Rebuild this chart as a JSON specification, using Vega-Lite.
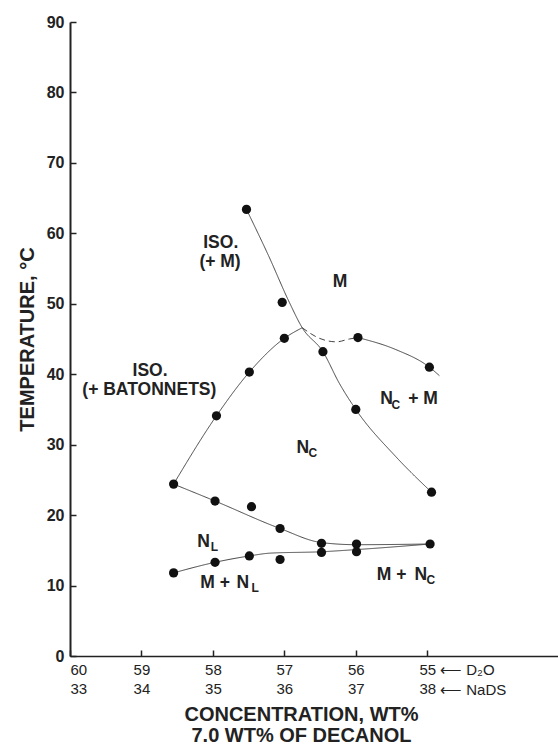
{
  "$schema": "https://vega.github.io/schema/vega-lite/v6.json",
  "width": 488,
  "height": 634,
  "autosize": {"type": "none"},
  "padding": {"left": 70, "top": 22, "right": 0, "bottom": 92},
  "background": "white",
  "config": {
    "view": {"stroke": null},
    "axis": {"labelFont": "Liberation Sans", "titleFont": "Liberation Sans", "domainColor": "#222", "tickColor": "#222", "labelColor": "#222", "titleColor": "#222", "grid": false}
  },
  "datasets": {
    "points": [
      {"x": 57.53, "y": 63.4}, {"x": 57.03, "y": 50.2}, {"x": 57.0, "y": 45.1}, {"x": 56.46, "y": 43.2},
      {"x": 55.97, "y": 45.2}, {"x": 54.97, "y": 41.0}, {"x": 56.0, "y": 35.0}, {"x": 54.94, "y": 23.25},
      {"x": 57.49, "y": 40.3}, {"x": 57.95, "y": 34.1}, {"x": 58.55, "y": 24.4}, {"x": 57.97, "y": 22.0},
      {"x": 57.46, "y": 21.2}, {"x": 57.06, "y": 18.1}, {"x": 56.48, "y": 16.0}, {"x": 56.48, "y": 14.7},
      {"x": 55.99, "y": 15.9}, {"x": 55.99, "y": 14.8}, {"x": 54.96, "y": 15.9}, {"x": 58.55, "y": 11.8},
      {"x": 57.97, "y": 13.3}, {"x": 57.49, "y": 14.2}, {"x": 57.06, "y": 13.7}
    ],
    "curves": [
      {"s": "A", "st": "solid", "x": 58.55, "y": 24.4},
      {"s": "A", "st": "solid", "x": 57.95, "y": 34.1},
      {"s": "A", "st": "solid", "x": 57.49, "y": 40.3},
      {"s": "A", "st": "solid", "x": 57.0, "y": 45.1},
      {"s": "A", "st": "solid", "x": 56.75, "y": 46.6},
      {"s": "B", "st": "dashed", "x": 56.75, "y": 46.6},
      {"s": "B", "st": "dashed", "x": 56.51, "y": 45.1},
      {"s": "B", "st": "dashed", "x": 56.27, "y": 44.6},
      {"s": "B", "st": "dashed", "x": 56.09, "y": 45.0},
      {"s": "B", "st": "dashed", "x": 55.97, "y": 45.2},
      {"s": "C", "st": "solid", "x": 55.97, "y": 45.2},
      {"s": "C", "st": "solid", "x": 55.44, "y": 43.5},
      {"s": "C", "st": "solid", "x": 54.97, "y": 41.0},
      {"s": "C", "st": "solid", "x": 54.83, "y": 39.8},
      {"s": "D", "st": "solid", "x": 57.53, "y": 63.4},
      {"s": "D", "st": "solid", "x": 57.22, "y": 56.8},
      {"s": "D", "st": "solid", "x": 56.93, "y": 50.2},
      {"s": "D", "st": "solid", "x": 56.75, "y": 46.6},
      {"s": "D", "st": "solid", "x": 56.46, "y": 43.2},
      {"s": "D", "st": "solid", "x": 56.23, "y": 38.7},
      {"s": "D", "st": "solid", "x": 56.0, "y": 35.0},
      {"s": "D", "st": "solid", "x": 55.44, "y": 28.3},
      {"s": "D", "st": "solid", "x": 54.94, "y": 23.25},
      {"s": "E", "st": "solid", "x": 58.55, "y": 24.4},
      {"s": "E", "st": "solid", "x": 57.97, "y": 22.0},
      {"s": "E", "st": "solid", "x": 57.06, "y": 18.1},
      {"s": "E", "st": "solid", "x": 56.48, "y": 16.1},
      {"s": "E", "st": "solid", "x": 55.99, "y": 15.8},
      {"s": "E", "st": "solid", "x": 54.96, "y": 15.9},
      {"s": "F", "st": "solid", "x": 58.55, "y": 11.8},
      {"s": "F", "st": "solid", "x": 57.97, "y": 13.3},
      {"s": "F", "st": "solid", "x": 57.49, "y": 14.2},
      {"s": "F", "st": "solid", "x": 57.2, "y": 14.6},
      {"s": "F", "st": "solid", "x": 56.48, "y": 14.8},
      {"s": "F", "st": "solid", "x": 56.0, "y": 15.1},
      {"s": "F", "st": "solid", "x": 54.96, "y": 15.9}
    ],
    "labels": [
      {"x": 57.89, "y": 58.6, "t": "ISO.", "k": "m"},
      {"x": 57.9, "y": 56.0, "t": "(+ M)", "k": "m"},
      {"x": 56.22, "y": 53.1, "t": "M", "k": "m"},
      {"x": 58.88, "y": 40.4, "t": "ISO.", "k": "m"},
      {"x": 58.89, "y": 37.7, "t": "(+ BATONNETS)", "k": "m"},
      {"x": 55.57, "y": 36.46, "t": "N", "k": "m"},
      {"x": 55.44, "y": 35.65, "t": "C", "k": "s"},
      {"x": 55.06, "y": 36.46, "t": "+ M", "k": "m"},
      {"x": 56.74, "y": 29.5, "t": "N", "k": "m"},
      {"x": 56.6, "y": 28.8, "t": "C", "k": "s"},
      {"x": 55.5, "y": 11.5, "t": "M +", "k": "m"},
      {"x": 55.09, "y": 11.5, "t": "N", "k": "m"},
      {"x": 54.95, "y": 10.8, "t": "C", "k": "s"},
      {"x": 58.13, "y": 16.2, "t": "N", "k": "m"},
      {"x": 57.98, "y": 15.5, "t": "L", "k": "s"},
      {"x": 57.97, "y": 10.3, "t": "M +", "k": "m"},
      {"x": 57.58, "y": 10.3, "t": "N", "k": "m"},
      {"x": 57.41, "y": 9.6, "t": "L", "k": "s"},
      {"x": 54.82, "y": -2.0, "t": "⟵ D₂O", "k": "a"},
      {"x": 54.82, "y": -4.8, "t": "⟵ NaDS", "k": "a"}
    ]
  },
  "layer": [
    {
      "mark": {"type": "rule", "color": "#333", "strokeWidth": 1.5},
      "encoding": {"y": {"datum": 90, "type": "quantitative"}}
    },
    {
      "data": {"name": "curves"},
      "mark": {"type": "line", "interpolate": "monotone", "color": "#444", "strokeWidth": 1},
      "encoding": {
        "x": {
          "field": "x", "type": "quantitative",
          "scale": {"domain": [53.17, 60], "reverse": true, "nice": false, "zero": false},
          "axis": {
            "values": [60, 59, 58, 57, 56, 55],
            "labelExpr": "[format(datum.value, 'd'), format(93 - datum.value, 'd')]",
            "labelFontSize": 15,
            "labelLineHeight": 19,
            "labelFontWeight": "normal",
            "labelPadding": 12,
            "tickSize": -6,
            "tickWidth": 1.5,
            "domainWidth": 1.5,
            "title": ["CONCENTRATION, WT%", "7.0 WT% OF DECANOL"],
            "titleFontSize": 20,
            "titleFontWeight": "bold",
            "titleLineHeight": 21,
            "titlePadding": 8,
            "titleX": 231
          }
        },
        "y": {
          "field": "y", "type": "quantitative",
          "scale": {"domain": [0, 90], "nice": false, "zero": false},
          "axis": {
            "values": [0, 10, 20, 30, 40, 50, 60, 70, 80, 90],
            "labelFontSize": 16,
            "labelFontWeight": "bold",
            "labelPadding": 12,
            "tickSize": -6,
            "tickWidth": 1.5,
            "domainWidth": 2,
            "title": "TEMPERATURE, °C",
            "titleFontSize": 20,
            "titleFontWeight": "bold",
            "titlePadding": 9
          }
        },
        "detail": {"field": "s"},
        "strokeDash": {"field": "st", "type": "nominal", "scale": {"domain": ["solid", "dashed"], "range": [[1, 0], [6, 4]]}, "legend": null}
      }
    },
    {
      "data": {"name": "points"},
      "mark": {"type": "circle", "size": 85, "color": "#111", "opacity": 1},
      "encoding": {
        "x": {"field": "x", "type": "quantitative"},
        "y": {"field": "y", "type": "quantitative"}
      }
    },
    {
      "data": {"name": "labels"},
      "transform": [{"filter": "datum.k == 'm'"}],
      "mark": {"type": "text", "font": "Liberation Sans", "fontWeight": "bold", "fontSize": 17.5, "color": "#222", "align": "center", "baseline": "middle"},
      "encoding": {
        "x": {"field": "x", "type": "quantitative"},
        "y": {"field": "y", "type": "quantitative"},
        "text": {"field": "t"}
      }
    },
    {
      "data": {"name": "labels"},
      "transform": [{"filter": "datum.k == 's'"}],
      "mark": {"type": "text", "font": "Liberation Sans", "fontWeight": "bold", "fontSize": 12, "color": "#222", "align": "center", "baseline": "middle"},
      "encoding": {
        "x": {"field": "x", "type": "quantitative"},
        "y": {"field": "y", "type": "quantitative"},
        "text": {"field": "t"}
      }
    },
    {
      "data": {"name": "labels"},
      "transform": [{"filter": "datum.k == 'a'"}],
      "mark": {"type": "text", "font": "Liberation Sans", "fontSize": 15, "color": "#222", "align": "left", "baseline": "middle"},
      "encoding": {
        "x": {"field": "x", "type": "quantitative"},
        "y": {"field": "y", "type": "quantitative"},
        "text": {"field": "t"}
      }
    }
  ]
}
